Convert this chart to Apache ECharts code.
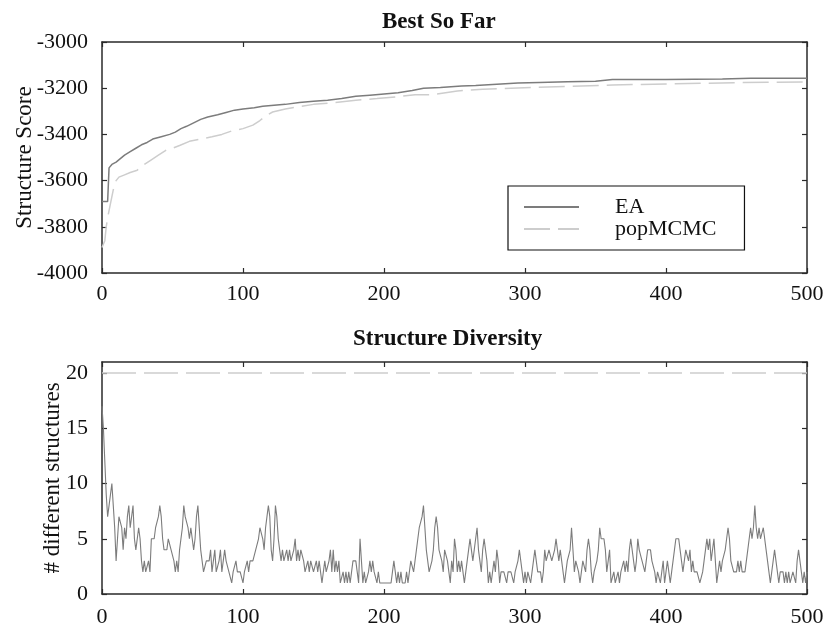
<!DOCTYPE html>
<html>
<head>
<meta charset="utf-8">
<script src="https://cdn.jsdelivr.net/npm/echarts@6/dist/echarts.min.js"></script>
<style>html,body{margin:0;padding:0;background:#fff}#c{width:824px;height:629px}</style>
</head>
<body>
<div id="c"></div>
<script>
// ---------- Data ----------
const seriesNames = ['EA', 'popMCMC'];
const titles = ['Best So Far', 'Structure Diversity'];
const xTicks = [0, 100, 200, 300, 400, 500];
const scoreTicks = [-4000, -3800, -3600, -3400, -3200, -3000];
const diversityTicks = [0, 5, 10, 15, 20];

// Best so far: generation / score
const eaBestGen = [0, 4, 5, 7, 10, 13, 16, 20, 24, 28, 32, 36, 42, 48, 52, 56, 60, 65, 70, 75, 82, 88, 94, 100, 108, 114, 120, 130, 140, 150, 160, 170, 180, 190, 200, 210, 220, 228, 240, 255, 265, 280, 295, 310, 330, 350, 362, 400, 440, 460, 500];
const eaBest = [-3690, -3690, -3545, -3530, -3520, -3505, -3490, -3475, -3460, -3445, -3435, -3420, -3410, -3400, -3390, -3375, -3365, -3350, -3335, -3325, -3315, -3305, -3295, -3290, -3285, -3278, -3275, -3270, -3262, -3257, -3252, -3245, -3235, -3230, -3225, -3220, -3210, -3200, -3197, -3190, -3188, -3183, -3178, -3175, -3172, -3170, -3162, -3162, -3160, -3157, -3157];
const popBestGen = [0, 2, 3, 4, 6, 8, 10, 12, 16, 20, 25, 30, 35, 40, 45, 50, 55, 62, 70, 78, 85, 92, 100, 107, 112, 116, 121, 130, 140, 150, 165, 180, 195, 210, 222, 235, 252, 270, 290, 306, 330, 362, 400, 448, 500];
const popBest = [-3890, -3860, -3800, -3760, -3700, -3640, -3600, -3585, -3575, -3565, -3555, -3530, -3510, -3490, -3470, -3460, -3448, -3430, -3420, -3410, -3400, -3385, -3375, -3360, -3340, -3320, -3303, -3290, -3280, -3270, -3262, -3252, -3245, -3237, -3228, -3228, -3212, -3205, -3200, -3197, -3192, -3186, -3182, -3176, -3173];

// Structure diversity: EA, one value per generation 0..500
const eaDiversity = [
  17, 15, 12, 9, 7, 8, 9, 10, 8, 6, 3,
  5, 7, 7, 6, 4, 6, 5, 7, 8, 6,
  6, 8, 5, 4, 4, 6, 5, 3, 2, 3,
  2, 2, 3, 2, 5, 5, 5, 6, 6, 7,
  8, 7, 5, 4, 4, 4, 5, 5, 4, 4,
  3, 2, 3, 2, 4, 5, 6, 8, 7, 7,
  6, 5, 6, 5, 4, 5, 7, 8, 6, 4,
  3, 2, 2, 3, 3, 3, 4, 2, 2, 4,
  2, 2, 3, 4, 2, 3, 4, 3, 3, 2,
  2, 1, 2, 2, 3, 2, 2, 2, 2, 1,
  2, 2, 3, 2, 3, 3, 3, 3, 4, 4,
  5, 6, 6, 5, 4, 6, 7, 8, 7, 4,
  3, 5, 8, 7, 5, 4, 3, 4, 3, 3,
  4, 3, 4, 3, 3, 4, 5, 3, 4, 3,
  4, 4, 3, 2, 2, 3, 2, 3, 3, 2,
  2, 3, 2, 3, 2, 1, 2, 3, 2, 2,
  3, 4, 2, 4, 2, 3, 2, 3, 1, 1,
  2, 1, 2, 1, 2, 1, 2, 3, 3, 3,
  2, 1, 5, 3, 1, 2, 1, 1, 2, 3,
  2, 3, 2, 2, 1, 2, 1, 1, 1, 1,
  1, 1, 1, 1, 1, 2, 3, 2, 1, 2,
  1, 2, 1, 1, 1, 2, 1, 2, 3, 3,
  2, 3, 4, 5, 6, 6, 7, 8, 6, 4,
  3, 2, 2, 3, 4, 6, 7, 6, 4, 4,
  3, 2, 4, 4, 3, 2, 1, 3, 2, 5,
  4, 2, 3, 2, 3, 2, 1, 2, 3, 4,
  5, 4, 3, 4, 5, 6, 4, 3, 2, 4,
  5, 4, 3, 1, 2, 1, 2, 3, 2, 4,
  3, 1, 2, 2, 2, 2, 1, 2, 2, 2,
  2, 1, 2, 2, 3, 4, 3, 2, 1, 2,
  1, 2, 2, 1, 2, 3, 4, 3, 2, 2,
  2, 1, 2, 4, 3, 3, 4, 4, 3, 3,
  4, 5, 4, 3, 4, 3, 2, 1, 2, 3,
  3, 4, 6, 4, 2, 3, 3, 2, 1, 2,
  3, 3, 2, 4, 5, 4, 2, 1, 2, 2,
  3, 4, 6, 5, 5, 5, 4, 2, 2, 4,
  1, 1, 2, 1, 1, 2, 1, 2, 2, 3,
  2, 3, 2, 4, 5, 4, 3, 2, 3, 5,
  4, 4, 3, 3, 2, 3, 4, 4, 4, 3,
  3, 2, 1, 2, 2, 1, 2, 3, 1, 2,
  3, 2, 1, 2, 3, 4, 5, 5, 5, 4,
  3, 2, 3, 4, 4, 3, 4, 2, 3, 2,
  2, 2, 2, 1, 1, 2, 3, 4, 5, 4,
  5, 3, 3, 5, 3, 1, 2, 3, 2, 3,
  3, 4, 5, 6, 5, 3, 3, 2, 2, 2,
  3, 2, 3, 2, 2, 2, 2, 4, 5, 6,
  5, 6, 8, 6, 5, 6, 5, 5, 6, 6,
  4, 3, 2, 1, 2, 3, 4, 3, 2, 1,
  2, 2, 2, 1, 2, 1, 2, 1, 1, 2,
  2, 1, 3, 4, 3, 2, 1, 2, 1, 2
];
// popMCMC diversity: population size, constant across generations
const popDiversityGen = [0, 500];
const popDiversity = [20, 20];

// ---------- Build ----------
const pairs = (xs, ys) => xs.map((x, i) => [x, ys[i]]);
const eaDivPairs = eaDiversity.map((v, i) => [i, v]);

const FONT = 'Liberation Serif';
const EA_COLOR = '#7c7c7c';
const POP_COLOR = '#cdcdcd';
const AXIS_COLOR = '#2a2a2a';

function xAx(gridIndex, primary, margin) {
  return {
    type: 'value', gridIndex, min: xTicks[0], max: xTicks[xTicks.length - 1], interval: 100,
    position: primary ? 'bottom' : 'top',
    axisLine: { show: true, onZero: false, lineStyle: { color: AXIS_COLOR, width: 1.5 } },
    axisTick: { show: true, inside: true, length: 5, lineStyle: { color: AXIS_COLOR, width: 1.2 } },
    axisLabel: { show: primary, margin: margin, color: '#111', fontFamily: FONT, fontSize: 22 },
    splitLine: { show: false }
  };
}
function yAx(gridIndex, primary, min, max, interval, extra) {
  return Object.assign({
    type: 'value', gridIndex, min, max, interval,
    position: primary ? 'left' : 'right',
    axisLine: { show: true, onZero: false, lineStyle: { color: AXIS_COLOR, width: 1.5 } },
    axisTick: { show: true, inside: true, length: 5, lineStyle: { color: AXIS_COLOR, width: 1.2 } },
    axisLabel: { show: primary, margin: 14, color: '#111', fontFamily: FONT, fontSize: 22, showMaxLabel: primary && max % interval === 0,
      formatter: v => String(v) },
    splitLine: { show: false }
  }, extra || {});
}

const option = {
  animation: false,
  backgroundColor: '#fff',
  textStyle: { fontFamily: FONT },
  title: [
    { text: titles[0], left: 382, top: 11, padding: 0, textStyle: { fontFamily: FONT, fontWeight: 'bold', fontSize: 23, color: '#111' } },
    { text: titles[1], left: 353, top: 328, padding: 0, textStyle: { fontFamily: FONT, fontWeight: 'bold', fontSize: 23, color: '#111' } }
  ],
  legend: {
    data: seriesNames,
    orient: 'vertical',
    left: 508, top: 186,
    padding: [10, 28, 10, 15],
    itemGap: 0,
    itemWidth: 55, itemHeight: 14,
    itemStyle: { color: 'rgba(0,0,0,0)', borderWidth: 0, opacity: 0 },
    borderColor: '#111', borderWidth: 1.2,
    textStyle: { fontFamily: FONT, fontSize: 22, color: '#111', lineHeight: 21, padding: [0, 0, 0, 31] }
  },
  grid: [
    { left: 102, right: 17, top: 42, height: 231, outerBoundsMode: 'none', containLabel: false },
    { left: 102, right: 17, top: 362, height: 232, outerBoundsMode: 'none', containLabel: false }
  ],
  xAxis: [xAx(0, true, 10), xAx(0, false, 10), xAx(1, true, 12), xAx(1, false, 12)],
  yAxis: [
    yAx(0, true, scoreTicks[0], scoreTicks[scoreTicks.length - 1], 200,
      { name: 'Structure Score', nameLocation: 'middle', nameGap: 66, nameMoveOverlap: false, nameTextStyle: { fontFamily: FONT, fontSize: 23, color: '#111' } }),
    yAx(0, false, scoreTicks[0], scoreTicks[scoreTicks.length - 1], 200),
    yAx(1, true, diversityTicks[0], 21, 5,
      { name: '# different structures', nameLocation: 'middle', nameGap: 38, nameMoveOverlap: false, nameTextStyle: { fontFamily: FONT, fontSize: 23, color: '#111' } }),
    yAx(1, false, diversityTicks[0], 21, 5)
  ],
  series: [
    { name: seriesNames[0], type: 'line', xAxisIndex: 0, yAxisIndex: 0, showSymbol: false, symbol: 'none',
      data: pairs(eaBestGen, eaBest), lineStyle: { color: EA_COLOR, width: 1.5 }, itemStyle: { color: EA_COLOR }, z: 3 },
    { name: seriesNames[1], type: 'line', xAxisIndex: 0, yAxisIndex: 0, showSymbol: false, symbol: 'none',
      data: pairs(popBestGen, popBest), lineStyle: { color: POP_COLOR, width: 1.5, type: [26, 8] }, itemStyle: { color: POP_COLOR }, z: 2 },
    { name: seriesNames[0], type: 'line', xAxisIndex: 2, yAxisIndex: 2, showSymbol: false, symbol: 'none',
      data: eaDivPairs, lineStyle: { color: EA_COLOR, width: 1.1 }, itemStyle: { color: EA_COLOR }, z: 3 },
    { name: seriesNames[1], type: 'line', xAxisIndex: 2, yAxisIndex: 2, showSymbol: false, symbol: 'none',
      data: pairs(popDiversityGen, popDiversity), lineStyle: { color: POP_COLOR, width: 1.5, type: [34, 8] }, itemStyle: { color: POP_COLOR }, z: 2 }
  ]
};
const chart = echarts.init(document.getElementById('c'), null, { renderer: 'canvas' });
chart.setOption(option);
</script>
</body>
</html>
